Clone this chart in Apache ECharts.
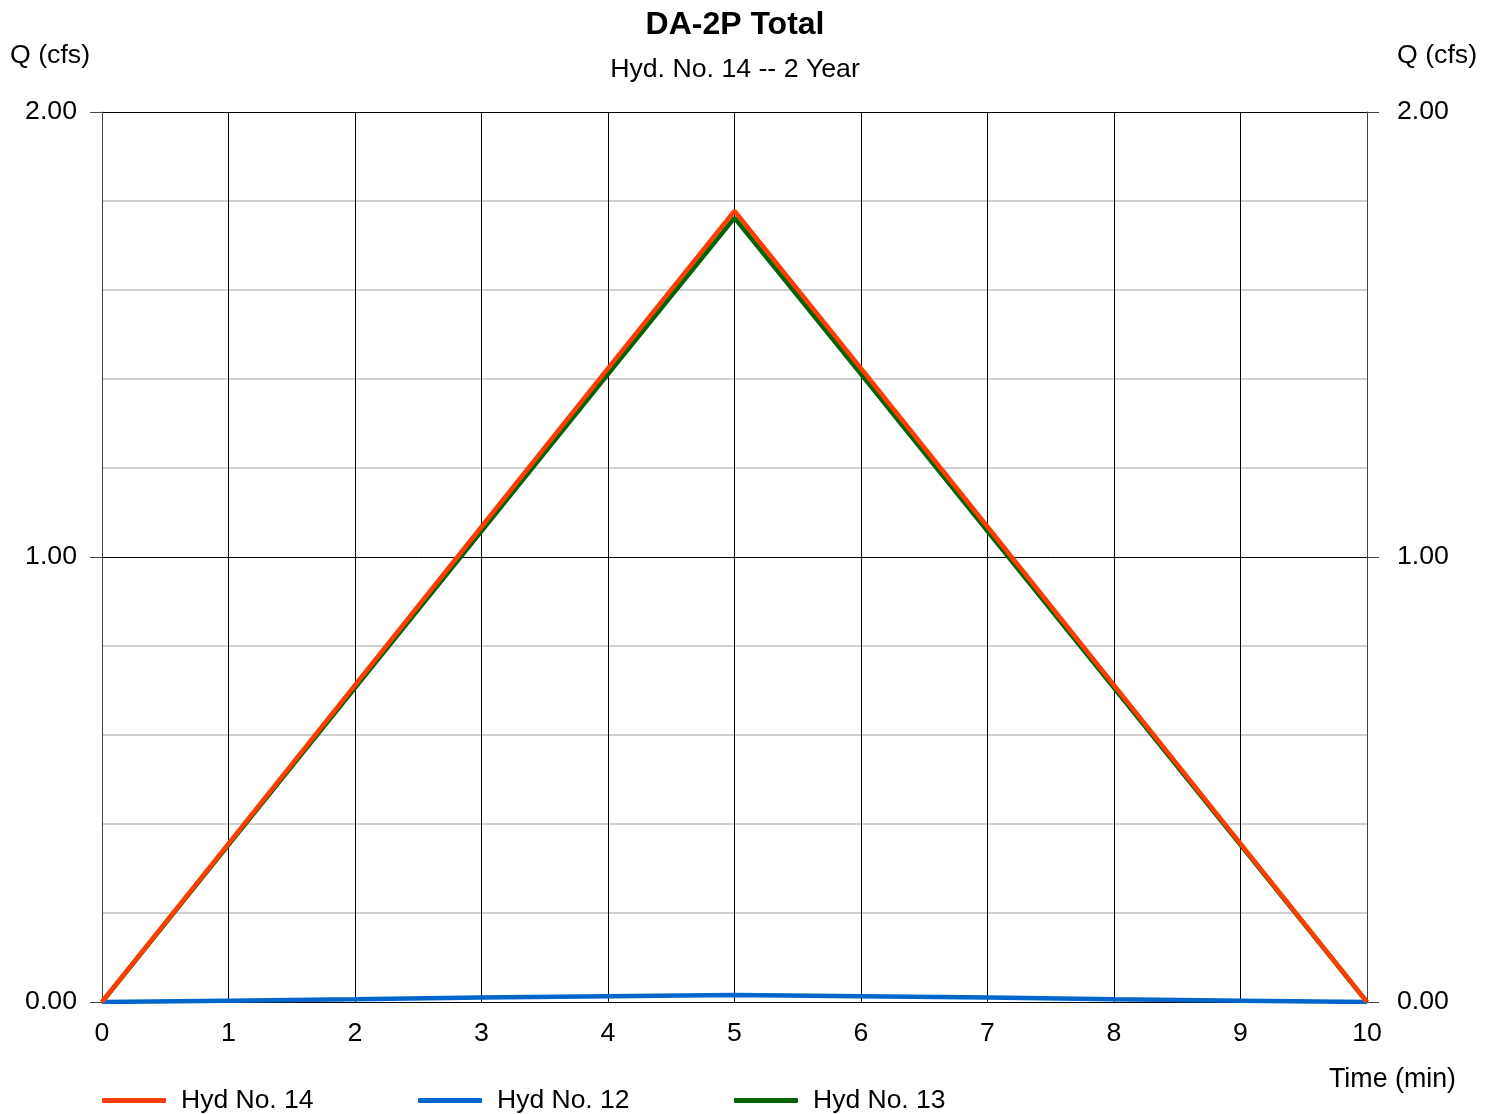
<!DOCTYPE html>
<html><head><meta charset="utf-8">
<script src="https://cdn.jsdelivr.net/npm/echarts@6/dist/echarts.min.js"></script>
<style>html,body{margin:0;padding:0;background:#fff}#c{width:1496px;height:1114px}</style>
</head><body><div id="c"></div>
<script>
const timeMin = [0,1,2,3,4,5,6,7,8,9,10];
const hyd14 = [0,0.356,0.712,1.068,1.424,1.778,1.424,1.068,0.712,0.356,0];
const hyd12 = [0,0.003,0.006,0.010,0.013,0.016,0.013,0.010,0.006,0.003,0];
const hyd13 = [0,0.353,0.706,1.058,1.411,1.762,1.411,1.058,0.706,0.353,0];
const yTicks = [0,1,2];

const F = 'Liberation Sans, Arial, sans-serif';
const pairs = a => timeMin.map((t,i)=>[t,a[i]]);
const chart = echarts.init(document.getElementById('c'));
const yAx = (pos, margin) => ({
  type:'value', position:pos, min:0, max:2, interval:1,
  axisLine:{show:true, lineStyle:{color:'#444', width:1}},
  axisTick:{show:true, length:12, lineStyle:{color:'#444'}},
  axisLabel:{margin:margin, fontSize:26.7, fontFamily:F, color:'#000', formatter:v=>v.toFixed(2), padding:[3,0,0,0]},
  splitLine:{show:pos==='left', lineStyle:{color:'#000', width:1}},
  minorTick:{show:false, splitNumber:5},
  minorSplitLine:{show:pos==='left', lineStyle:{color:'#cfcfcf', width:2}}
});
const legendItem = (name, left) => ({
  data:[name], left:left, top:1087, padding:0, itemWidth:64, itemHeight:5, icon:'roundRect',
  textStyle:{fontSize:26.5, fontFamily:F, color:'#000', padding:[0,0,0,10]}
});
chart.setOption({
  animation:false,
  title:[
    {text:'DA-2P Total', left:730, textAlign:'center', top:4, textStyle:{fontSize:32, fontWeight:'bold', fontFamily:F, color:'#000'}},
    {text:'Hyd. No. 14 -- 2 Year', left:730, textAlign:'center', top:51, textStyle:{fontSize:26.7, fontWeight:'normal', fontFamily:F, color:'#000'}}
  ],
  graphic:[
    {type:'text', left:10, top:42, style:{text:'Q (cfs)', font:'26.7px '+F, fill:'#000'}},
    {type:'text', left:1397, top:42, style:{text:'Q (cfs)', font:'26.7px '+F, fill:'#000'}},
    {type:'text', left:1329, top:1066, style:{text:'Time (min)', font:'26.8px '+F, fill:'#000'}}
  ],
  grid:{left:102, right:129, top:112, bottom:112, containLabel:false},
  xAxis:{type:'value', min:0, max:10, interval:1,
    axisLine:{show:true, onZero:false, lineStyle:{color:'#000'}},
    axisTick:{show:false},
    axisLabel:{margin:18, fontSize:26.7, fontFamily:F, color:'#000'},
    splitLine:{show:true, lineStyle:{color:'#000', width:1}}},
  yAxis:[yAx('left',25), yAx('right',30)],
  legend:[legendItem('Hyd No. 14',102), legendItem('Hyd No. 12',418), legendItem('Hyd No. 13',734)],
  series:[
    {name:'Hyd No. 13', type:'line', data:pairs(hyd13), showSymbol:false, symbol:'none', color:'#006400', lineStyle:{width:4.5, color:'#006400'}, z:3},
    {name:'Hyd No. 12', type:'line', data:pairs(hyd12), showSymbol:false, symbol:'none', color:'#0066cc', lineStyle:{width:4.5, color:'#0066cc'}, z:4},
    {name:'Hyd No. 14', type:'line', data:pairs(hyd14), showSymbol:false, symbol:'none', color:'#ff3d00', lineStyle:{width:4.5, color:'#ff3d00'}, z:5}
  ]
});
</script></body></html>
